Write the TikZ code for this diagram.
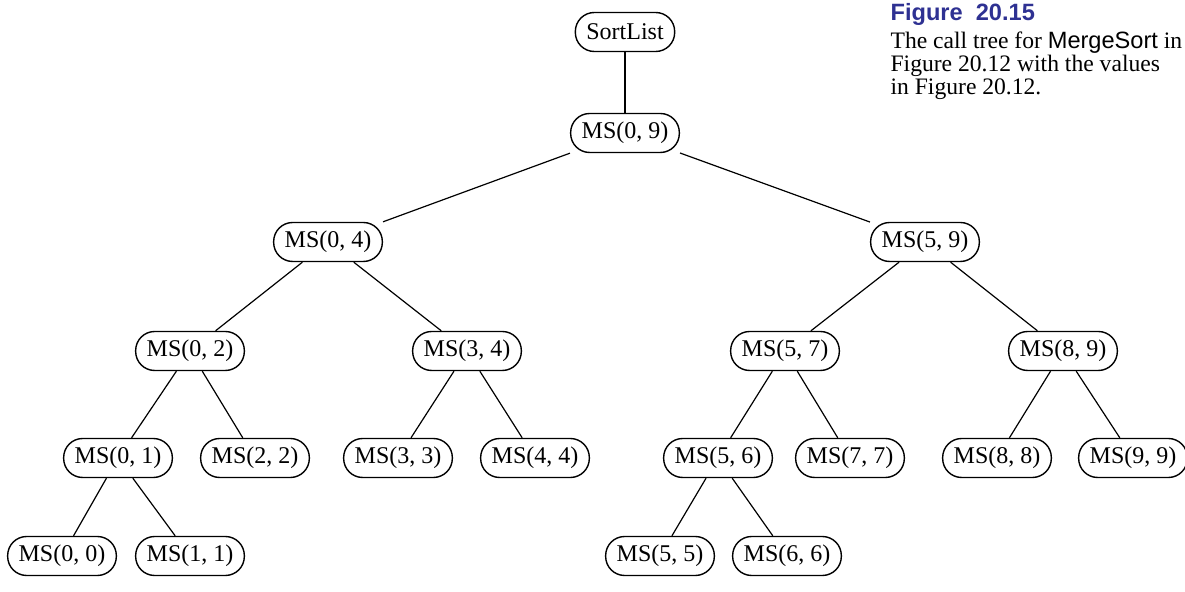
\documentclass[tikz,border=0pt]{standalone}
\usepackage{fontspec}
\setmainfont{Liberation Serif}
\setsansfont{Liberation Sans}
\definecolor{figblue}{RGB}{46,49,146}
\tikzset{>=stealth}
\tikzset{call/.style={draw, line width=0.7pt, rounded corners=9.5pt, minimum height=19.5pt, inner xsep=5.5pt, inner ysep=2pt, font=\fontsize{12}{14}\selectfont}}

\begin{document}
\begin{tikzpicture}[x=0.5pt,y=-0.5pt,line width=0.6pt]
\useasboundingbox (0,0) rectangle (1185,592);
% root and first split
\node[call] (sl) at (625,32) {SortList};
\node[call] (m09) at (625,133) {MS(0, 9)};
\node[call] (m04) at (328,242) {MS(0, 4)};
\node[call] (m59) at (925,242) {MS(5, 9)};
% third level
\node[call] (m02) at (190,351) {MS(0, 2)};
\node[call] (m34) at (467,351) {MS(3, 4)};
\node[call] (m57) at (785,351) {MS(5, 7)};
\node[call] (m89) at (1063,351) {MS(8, 9)};
% fourth level
\node[call] (m01) at (118,458) {MS(0, 1)};
\node[call] (m22) at (255,458) {MS(2, 2)};
\node[call] (m33) at (398,458) {MS(3, 3)};
\node[call] (m44) at (535,458) {MS(4, 4)};
\node[call] (m56) at (718,458) {MS(5, 6)};
\node[call] (m77) at (850,458) {MS(7, 7)};
\node[call] (m88) at (997,458) {MS(8, 8)};
\node[call] (m99) at (1133,458) {MS(9, 9)};
% leaves
\node[call] (m00) at (62,556) {MS(0, 0)};
\node[call] (m11) at (190,556) {MS(1, 1)};
\node[call] (m55) at (660,556) {MS(5, 5)};
\node[call] (m66) at (787,556) {MS(6, 6)};
% calls
\draw (sl) -- (m09);
\draw (m09) -- (m04);
\draw (m09) -- (m59);
\draw (m04) -- (m02);
\draw (m04) -- (m34);
\draw (m59) -- (m57);
\draw (m59) -- (m89);
\draw (m02) -- (m01);
\draw (m02) -- (m22);
\draw (m34) -- (m33);
\draw (m34) -- (m44);
\draw (m57) -- (m56);
\draw (m57) -- (m77);
\draw (m89) -- (m88);
\draw (m89) -- (m99);
\draw (m01) -- (m00);
\draw (m01) -- (m11);
\draw (m56) -- (m55);
\draw (m56) -- (m66);
% caption
\node[anchor=north west, inner sep=0pt, align=left, font=\fontsize{11.8}{11.5}\selectfont] (cap) at (890,3)
 {{\sffamily\bfseries\color{figblue}Figure\ \ 20.15}\\[2.5pt]
 The call tree for \textsf{MergeSort} in\\
 Figure 20.12 with the values\\
 in Figure 20.12.};
\end{tikzpicture}
\end{document}
